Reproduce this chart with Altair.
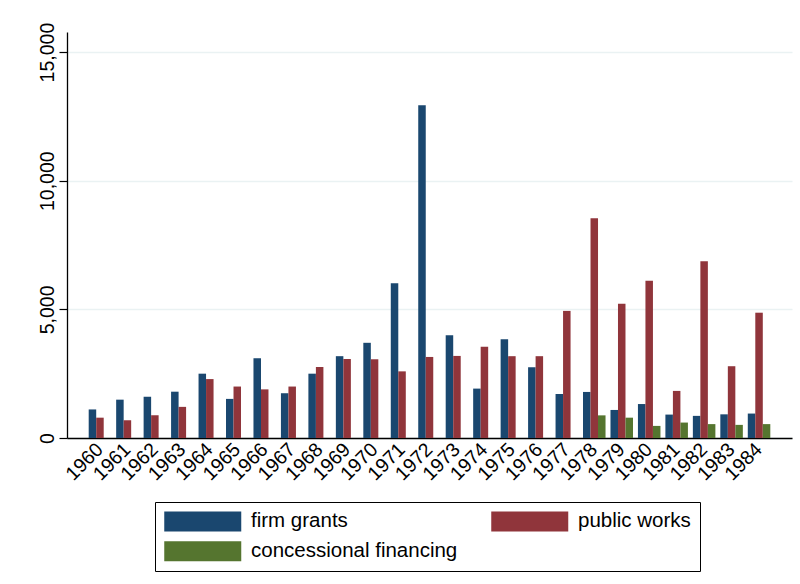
import altair as alt
import pandas as pd

# Annual spending by programme, 1960-1984
years = ["1960", "1961", "1962", "1963", "1964", "1965", "1966", "1967", "1968",
         "1969", "1970", "1971", "1972", "1973", "1974", "1975", "1976", "1977",
         "1978", "1979", "1980", "1981", "1982", "1983", "1984"]

firm_grants = [1110, 1490, 1600, 1800, 2500, 1520, 3100, 1740, 2500, 3180, 3700,
               6010, 12930, 3990, 1920, 3840, 2750, 1710, 1790, 1090, 1320, 910,
               860, 920, 950]

public_works = [790, 690, 880, 1210, 2290, 2000, 1890, 2000, 2760, 3070, 3060,
                2590, 3150, 3190, 3550, 3180, 3180, 4940, 8540, 5220, 6110, 1830,
                6870, 2790, 4870]

# concessional financing only starts in 1978
concessional_years = ["1978", "1979", "1980", "1981", "1982", "1983", "1984"]
concessional = [880, 790, 470, 600, 540, 510, 540]

series = ["firm grants", "public works", "concessional financing"]
colors = ["#1a476f", "#90353b", "#55752f"]
# legend entries fill column by column: first column holds two entries
legend_order = ["firm grants", "concessional financing", "public works"]

rows = []
for y, v in zip(years, firm_grants):
    rows.append({"year": y, "series": series[0], "value": v})
for y, v in zip(years, public_works):
    rows.append({"year": y, "series": series[1], "value": v})
for y, v in zip(concessional_years, concessional):
    rows.append({"year": y, "series": series[2], "value": v})
df = pd.DataFrame(rows)

FONT = "Liberation Sans"

chart = (
    alt.Chart(df)
    .mark_bar()
    .encode(
        x=alt.X(
            "year:N",
            sort=years,
            scale=alt.Scale(paddingInner=0.18, paddingOuter=0.79),
            axis=alt.Axis(
                title=None,
                labelAngle=315,
                labelAlign="right",
                labelBaseline="middle",
                labelPadding=8,
                ticks=False,
                grid=False,
                domainColor="black",
                domainWidth=1.3,
                labelFontSize=19.5,
                labelColor="black",
                labelFont=FONT,
            ),
        ),
        xOffset=alt.XOffset(
            "series:N",
            sort=series,
            scale=alt.Scale(domain=series, paddingInner=0, paddingOuter=0),
        ),
        y=alt.Y(
            "value:Q",
            scale=alt.Scale(domain=[0, 15780], nice=False),
            axis=alt.Axis(
                title=None,
                values=[0, 5000, 10000, 15000],
                format=",.0f",
                labelAngle=270,
                labelAlign="center",
                labelBaseline="alphabetic",
                labelPadding=6,
                tickSize=8,
                tickColor="black",
                tickWidth=1.2,
                domainColor="black",
                domainWidth=1.3,
                gridColor="#eaf2f3",
                gridWidth=1.5,
                labelFontSize=19.5,
                labelColor="black",
                labelFont=FONT,
            ),
        ),
        color=alt.Color(
            "series:N",
            sort=series,
            scale=alt.Scale(domain=series, range=colors),
            legend=alt.Legend(
                title=None,
                values=legend_order,
                orient="none",
                legendX=88,
                legendY=470,
                columns=2,
                symbolType="M-3.85,-1H3.85V1H-3.85Z",
                symbolSize=400,
                symbolStrokeWidth=0,
                symbolOpacity=1,
                symbolOffset=28.5,
                labelOffset=38,
                labelFontSize=20.5,
                labelFont=FONT,
                labelColor="black",
                labelLimit=0,
                columnPadding=33,
                rowPadding=9,
                padding=9,
                strokeColor="black",
            ),
        ),
    )
    .properties(
        width=725,
        height=406,
        autosize=alt.AutoSizeParams(type="none"),
        padding={"left": 67, "top": 32, "right": 8, "bottom": 146},
        background="white",
    )
    .configure_view(stroke=None)
)

chart.save("out.html", embed_options={"renderer": "svg", "actions": False})
